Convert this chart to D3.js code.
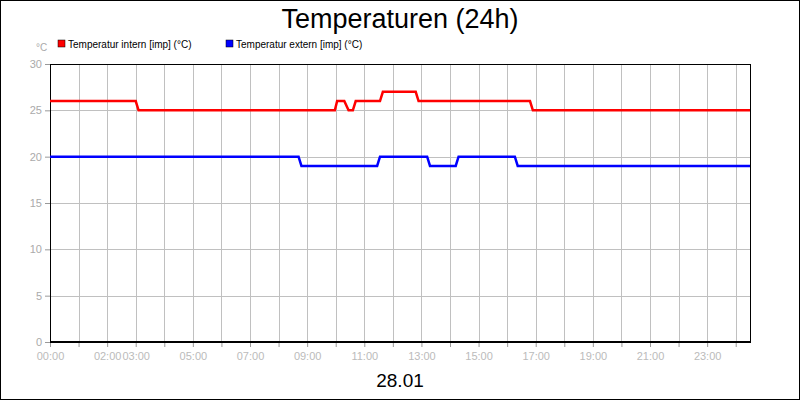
<!DOCTYPE html>
<html><head><meta charset="utf-8">
<script src="https://cdn.jsdelivr.net/npm/d3@7"></script>
<style>body{margin:0;background:#fff}svg{display:block;font-family:"Liberation Sans",Arial,sans-serif}</style>
</head><body><svg id="c" width="800" height="400"></svg>
<script>
// hours since 00:00, values in °C
const internTimes = [0, 3.0, 3.1, 9.97, 10.05, 10.3, 10.45, 10.6, 10.7, 11.55, 11.65, 12.8, 12.9, 16.8, 16.9, 24.5];
const internValues = [26, 26, 25, 25, 26, 26, 25, 25, 26, 26, 27, 27, 26, 26, 25, 25];
const externTimes = [0, 8.7, 8.8, 11.45, 11.55, 13.2, 13.3, 14.2, 14.3, 16.27, 16.37, 24.5];
const externValues = [20, 20, 19, 19, 20, 20, 19, 19, 20, 20, 19, 19];
const xTickHours = [0, 2, 3, 5, 7, 9, 11, 13, 15, 17, 19, 21, 23];
const yTicks = [0, 5, 10, 15, 20, 25, 30];
const series = [
  {name: "Temperatur intern [imp] (°C)", color: "#ff0000", t: internTimes, v: internValues},
  {name: "Temperatur extern [imp] (°C)", color: "#0000ff", t: externTimes, v: externValues}
];

const svg = d3.select("#c");
const x = d3.scaleLinear().domain([0, 24.5]).range([50, 750]);
const y = d3.scaleLinear().domain([0, 30]).range([342, 64]);

svg.append("rect").attr("x", 0.5).attr("y", 0.5).attr("width", 799).attr("height", 399)
  .attr("fill", "#fff").attr("stroke", "#000");

const grid = svg.append("g").attr("stroke", "#c0c0c0").attr("stroke-width", 1);
d3.range(1, 25).forEach(h => grid.append("line")
  .attr("x1", Math.round(x(h)) + .5).attr("x2", Math.round(x(h)) + .5).attr("y1", 64).attr("y2", 342));
yTicks.slice(1, -1).forEach(v => grid.append("line")
  .attr("x1", 50).attr("x2", 750).attr("y1", Math.round(y(v)) + .5).attr("y2", Math.round(y(v)) + .5));

svg.append("rect").attr("x", 50.5).attr("y", 64.5).attr("width", 700).attr("height", 278)
  .attr("fill", "none").attr("stroke", "#000");

const yAxis = svg.append("g").attr("transform", "translate(50,0)")
  .call(d3.axisLeft(y).tickValues(yTicks).tickSize(5).tickSizeOuter(0));
yAxis.select(".domain").remove();
yAxis.selectAll("line").attr("stroke", "#999");
yAxis.selectAll("text").attr("fill", "#aaa").style("font-size", "11px");

const xAxis = svg.append("g").attr("transform", "translate(0,342)")
  .call(d3.axisBottom(x).tickValues(d3.range(0, 25)).tickSize(5).tickSizeOuter(0)
    .tickFormat(h => xTickHours.includes(h) ? String(h).padStart(2, "0") + ":00" : ""));
xAxis.select(".domain").remove();
xAxis.selectAll("line").attr("stroke", "#999");
xAxis.selectAll("text").attr("fill", "#bbb").style("font-size", "11px").attr("dy", "0.9em");
svg.append("line").attr("x1", 50).attr("x2", 750).attr("y1", 342).attr("y2", 342).attr("stroke", "#000").attr("stroke-width", 2);

const line = d3.line().x(d => x(d[0])).y(d => y(d[1]));
series.forEach(s => {
  svg.append("path").datum(s.t.map((t, i) => [t, s.v[i]]))
    .attr("d", line).attr("fill", "none").attr("stroke", s.color).attr("stroke-width", 2.5);
});

// legend
series.forEach((s, i) => {
  const lx = 58 + i * 168;
  svg.append("rect").attr("x", lx).attr("y", 40).attr("width", 7).attr("height", 7)
    .attr("fill", s.color).attr("stroke", "#000").attr("stroke-width", 0.5);
  svg.append("text").attr("x", lx + 10).attr("y", 47.5).text(s.name).style("font-size", "10px");
});
svg.append("text").attr("x", 36).attr("y", 51).text("°C").attr("fill", "#aaa").style("font-size", "10px");

svg.append("text").attr("x", 400).attr("y", 28).attr("text-anchor", "middle").text("Temperaturen (24h)").style("font-size", "27px");
svg.append("text").attr("x", 400).attr("y", 387).attr("text-anchor", "middle").text("28.01").style("font-size", "19px");
</script></body></html>
